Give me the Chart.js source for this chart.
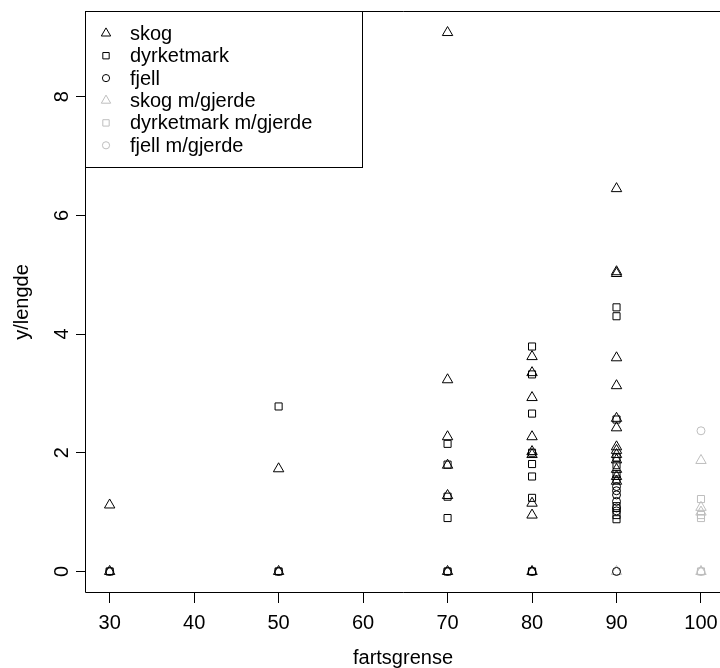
<!DOCTYPE html>
<html><head><meta charset="utf-8">
<script src="https://cdn.jsdelivr.net/npm/chart.js@4.4.1/dist/chart.umd.min.js"></script>
<style>
html,body{margin:0;padding:0;overflow:hidden;background:#fff;width:720px;height:668px}
#c{position:absolute;left:0;top:0;display:block}
</style>
</head><body><canvas id="c" width="720" height="668"></canvas>
<script>
// ---- data ----
const xTicks = [30, 40, 50, 60, 70, 80, 90, 100];
const yTicks = [0, 2, 4, 6, 8];
// visible x window (the R plot region continues past the right edge of the image)
const xLimits = [27.2, 102.25];
const yLimits = [-0.363, 9.443];
const seriesNames = ['skog', 'dyrketmark', 'fjell', 'skog m/gjerde', 'dyrketmark m/gjerde', 'fjell m/gjerde'];

const skogX = [30, 30, 50, 50, 70, 70, 70, 70, 70, 70, 80, 80, 80, 80, 80, 80, 80, 80, 80,
  90, 90, 90, 90, 90, 90, 90, 90, 90, 90, 90, 90, 90, 90];
const skogY = [1.12, 0, 1.73, 0, 9.08, 3.23, 2.27, 1.79, 1.28, 0, 3.62, 3.35, 2.93, 2.27, 2.02, 1.97, 1.15, 0.95, 0,
  6.45, 5.05, 5.02, 3.60, 3.13, 2.58, 2.42, 2.10, 2.04, 1.97, 1.88, 1.72, 1.60, 1.52];

const dyrkX = [30, 50, 50, 70, 70, 70, 70, 70, 80, 80, 80, 80, 80, 80, 80, 80,
  90, 90, 90, 90, 90, 90, 90, 90, 90, 90];
const dyrkY = [0, 2.78, 0, 2.15, 1.80, 1.26, 0.90, 0, 3.79, 3.32, 2.66, 2.00, 1.81, 1.60, 1.24, 0,
  4.45, 4.30, 2.56, 1.92, 1.79, 1.64, 1.55, 1.10, 0.95, 0.88];

const fjellX = [30, 50, 70, 80, 90, 90, 90, 90, 90, 90, 90];
const fjellY = [0, 0, 0, 0, 1.43, 1.36, 1.29, 1.18, 1.07, 1.02, 0];

const skogGX = [90, 100, 100, 100, 100];
const skogGY = [0, 1.87, 1.08, 1.00, 0];

const dyrkGX = [100, 100, 100, 100];
const dyrkGY = [1.22, 0.95, 0.90, 0];

const fjellGX = [100, 100];
const fjellGY = [2.37, 0];

// ---- styling ----
const BLACK = '#000000', GRAY = '#bebebe';
const FONT = "'Liberation Sans', Arial, Helvetica, sans-serif";
const FS = 20;

function pts(xs, ys) { return xs.map((x, i) => ({ x: x, y: ys[i] })); }
function ds(label, xs, ys, style, radius, color) {
  return {
    label: label, data: pts(xs, ys), showLine: false,
    pointStyle: style, pointRadius: radius, pointHoverRadius: radius,
    pointBorderColor: color, pointBackgroundColor: 'rgba(0,0,0,0)',
    pointBorderWidth: 1, pointHoverBorderWidth: 1
  };
}
const TRI = 6.0, SQ = 5.0, CIR = 4.0;
const datasets = [
  ds(seriesNames[0], skogX, skogY, 'triangle', TRI, BLACK),
  ds(seriesNames[1], dyrkX, dyrkY, 'rect', SQ, BLACK),
  ds(seriesNames[2], fjellX, fjellY, 'circle', CIR, BLACK),
  ds(seriesNames[3], skogGX, skogGY, 'triangle', TRI, GRAY),
  ds(seriesNames[4], dyrkGX, dyrkGY, 'rect', SQ, GRAY),
  ds(seriesNames[5], fjellGX, fjellGY, 'circle', CIR, GRAY)
];

function drawMarker(ctx, style, r, x, y, color) {
  ctx.save();
  ctx.strokeStyle = color; ctx.lineWidth = 1;
  ctx.beginPath();
  if (style === 'triangle') {
    let a = 0;
    ctx.moveTo(x + Math.sin(a) * r, y - Math.cos(a) * r);
    a += 2 * Math.PI / 3; ctx.lineTo(x + Math.sin(a) * r, y - Math.cos(a) * r);
    a += 2 * Math.PI / 3; ctx.lineTo(x + Math.sin(a) * r, y - Math.cos(a) * r);
    ctx.closePath();
  } else if (style === 'rect') {
    const s = r * Math.SQRT1_2;
    ctx.rect(x - s, y - s, 2 * s, 2 * s);
  } else {
    ctx.arc(x, y, r, 0, Math.PI * 2);
  }
  ctx.stroke();
  ctx.restore();
}

const rPlot = {
  id: 'rPlot',
  afterDraw(chart) {
    const ctx = chart.ctx, a = chart.chartArea, ys = chart.scales.y;
    ctx.save();
    // plot box: left, top and bottom edges (right edge lies beyond the image)
    ctx.strokeStyle = '#000'; ctx.lineWidth = 1;
    const L = Math.round(a.left) - 0.5, T = Math.round(a.top) + 0.5, B = Math.round(a.bottom) - 0.5;
    ctx.beginPath();
    ctx.moveTo(chart.width + 2, T); ctx.lineTo(L, T); ctx.lineTo(L, B); ctx.lineTo(chart.width + 2, B);
    ctx.stroke();
    // y tick labels, parallel to the axis (as in R)
    ctx.fillStyle = '#000';
    ctx.font = FS + 'px ' + FONT;
    ctx.textAlign = 'center'; ctx.textBaseline = 'middle';
    yTicks.forEach(v => {
      const py = ys.getPixelForValue(v);
      ctx.save(); ctx.translate(a.left - 24, py); ctx.rotate(-Math.PI / 2);
      ctx.fillText(String(v), 0, 0); ctx.restore();
    });
    // legend
    const lx = Math.round(a.left), ly = Math.round(a.top);
    const lw = 277, lh = 156, step = 22.4;
    ctx.strokeRect(lx - 0.5, ly + 0.5, lw, lh);
    ctx.textAlign = 'left';
    chart.data.datasets.forEach((d, i) => {
      const cy = ly + 22.3 + i * step;
      drawMarker(ctx, d.pointStyle, d.pointRadius * 0.9, lx + 20, cy, d.pointBorderColor);
      ctx.fillStyle = '#000';
      ctx.fillText(d.label, lx + 44, cy + 1);
    });
    ctx.restore();
  }
};

new Chart(document.getElementById('c'), {
  type: 'scatter',
  data: { datasets: datasets },
  options: {
    responsive: false, maintainAspectRatio: false, animation: false, events: [],
    devicePixelRatio: 1,
    layout: { autoPadding: false, padding: { top: 11, right: 0, bottom: 0, left: 0 } },
    plugins: { legend: { display: false }, tooltip: { enabled: false } },
    scales: {
      x: {
        type: 'linear', min: xLimits[0], max: xLimits[1],
        afterBuildTicks: s => { s.ticks = xTicks.map(v => ({ value: v })); },
        afterFit: s => { s.height = 75; },
        grid: { display: true, drawOnChartArea: false, drawTicks: true, tickLength: 10, color: '#000', lineWidth: 1 },
        border: { display: false },
        ticks: { color: '#000', font: { family: FONT, size: FS, lineHeight: 2.0 }, padding: 0, maxRotation: 0, autoSkip: false,
          callback: v => String(v) },
        title: { display: true, text: 'fartsgrense', color: '#000', font: { family: FONT, size: FS, lineHeight: 1.0 }, padding: 0 }
      },
      y: {
        type: 'linear', min: yLimits[0], max: yLimits[1],
        afterBuildTicks: s => { s.ticks = yTicks.map(v => ({ value: v })); },
        afterFit: s => { s.width = 86; },
        grid: { display: true, drawOnChartArea: false, drawTicks: true, tickLength: 10, color: '#000', lineWidth: 1 },
        border: { display: false },
        ticks: { display: false },
        title: { display: true, text: 'y/lengde', color: '#000', font: { family: FONT, size: FS, lineHeight: 1.2 }, padding: { top: 10, bottom: 0 } }
      }
    }
  },
  plugins: [rPlot]
});
</script>
</body></html>
